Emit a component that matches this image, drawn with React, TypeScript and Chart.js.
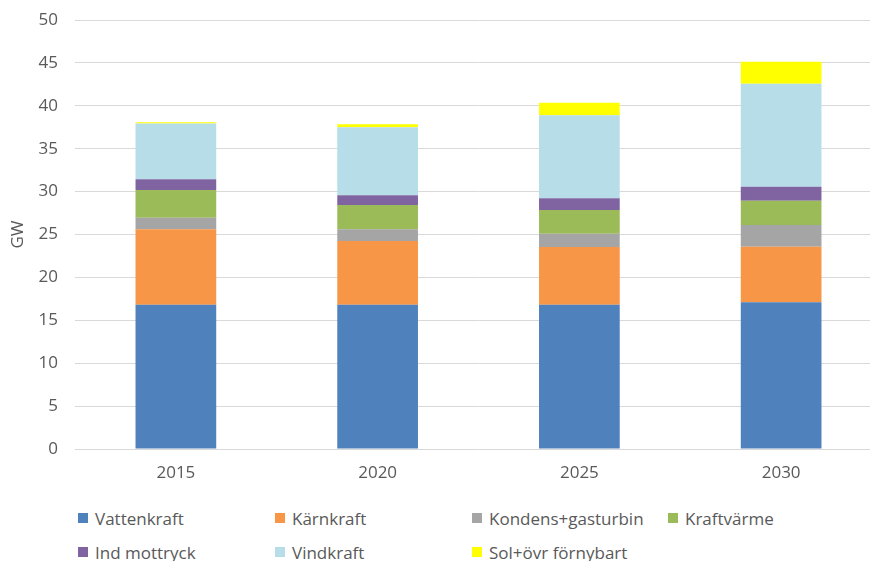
import React, { useEffect, useRef } from "react";
import { Chart, registerables } from "chart.js";

Chart.register(...registerables);

const years = ["2015", "2020", "2025", "2030"];
const vattenkraft = [16.82, 16.82, 16.82, 17.1];
const karnkraft = [8.78, 7.42, 6.72, 6.48];
const kondens = [1.36, 1.36, 1.55, 2.53];
const kraftvarme = [3.23, 2.84, 2.77, 2.83];
const indMottryck = [1.24, 1.13, 1.36, 1.63];
const vindkraft = [6.5, 7.92, 9.67, 12.0];
const sol = [0.15, 0.35, 1.47, 2.56];

const seriesNames = [
  "Vattenkraft",
  "Kärnkraft",
  "Kondens+gasturbin",
  "Kraftvärme",
  "Ind mottryck",
  "Vindkraft",
  "Sol+övr förnybart",
];
const seriesData = [vattenkraft, karnkraft, kondens, kraftvarme, indMottryck, vindkraft, sol];
const seriesColors = ["#4f81bd", "#f79646", "#a5a5a5", "#9bbb59", "#8064a2", "#b7dde8", "#ffff00"];
const yTicks = [0, 5, 10, 15, 20, 25, 30, 35, 40, 45, 50];

const FONT = "'Open Sans', sans-serif";
const TEXT = "#595959";

const legendPos = [
  { x: 78, y: 518 },
  { x: 275, y: 518 },
  { x: 472, y: 518 },
  { x: 668, y: 518 },
  { x: 78, y: 552 },
  { x: 275, y: 552 },
  { x: 472, y: 552 },
];

export default function App() {
  const ref = useRef<HTMLCanvasElement | null>(null);
  useEffect(() => {
    if (!ref.current) return;
    const chart = new Chart(ref.current, {
      type: "bar",
      data: {
        labels: years,
        datasets: seriesNames.map((n, i) => ({
          label: n,
          data: seriesData[i],
          backgroundColor: seriesColors[i],
          borderWidth: 0,
          categoryPercentage: 1,
          barPercentage: 0.4,
        })),
      },
      options: {
        animation: false,
        responsive: false,
        maintainAspectRatio: false,
        layout: { padding: { top: 20, right: 8, left: 0, bottom: 0 } },
        plugins: { legend: { display: false }, tooltip: { enabled: false } },
        scales: {
          x: {
            stacked: true,
            grid: { display: false, drawTicks: false },
            border: { display: false },
            ticks: { color: TEXT, font: { family: FONT, size: 17 }, padding: 14 },
            afterFit: (s: any) => {
              s.height = 41;
              s.paddingLeft = 0;
              s.paddingRight = 0;
            },
          },
          y: {
            stacked: true,
            min: 0,
            max: 50,
            afterBuildTicks: (s: any) => {
              s.ticks = yTicks.map((v) => ({ value: v }));
            },
            grid: { color: "#d9d9d9", lineWidth: 1, drawTicks: false },
            border: { display: false },
            ticks: { color: TEXT, font: { family: FONT, size: 17 }, padding: 17 },
            title: {
              display: true,
              text: "GW",
              color: TEXT,
              font: { family: FONT, size: 17 },
              padding: { top: 8, bottom: 0 },
            },
            afterFit: (s: any) => {
              s.width = 75;
              s.paddingTop = 0;
              s.paddingBottom = 0;
            },
          },
        },
      },
    });
    return () => chart.destroy();
  }, []);

  return (
    <div
      style={{
        position: "fixed",
        left: 0,
        top: 0,
        width: 870,
        height: 561,
        overflow: "hidden",
        background: "#fff",
      }}
    >
      <canvas ref={ref} width={890} height={490} style={{ position: "absolute", left: 0, top: 0 }} />
      {seriesNames.map((n, i) => (
        <div
          key={n}
          style={{
            position: "absolute",
            left: legendPos[i].x,
            top: legendPos[i].y - 12,
            height: 24,
            display: "flex",
            alignItems: "center",
            fontFamily: FONT,
            fontSize: 17,
            color: TEXT,
            whiteSpace: "nowrap",
          }}
        >
          <span
            style={{
              display: "inline-block",
              width: 10,
              height: 10,
              background: seriesColors[i],
              marginRight: 7,
            }}
          />
          {n}
        </div>
      ))}
    </div>
  );
}
